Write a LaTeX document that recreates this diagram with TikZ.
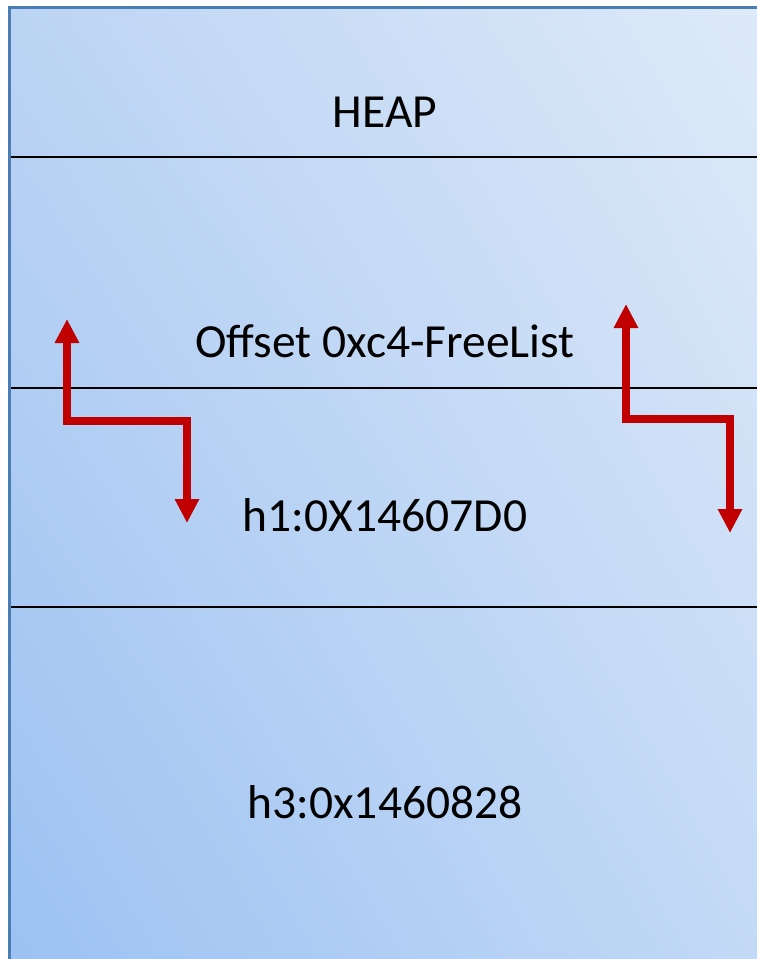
\documentclass[tikz,border=0pt]{standalone}
\usepackage{fontspec}
\setmainfont{Carlito}
\usetikzlibrary{arrows.meta,shadings}
\definecolor{tl}{HTML}{BCD4F4}
\definecolor{tr}{HTML}{E0EBF9}
\definecolor{bl}{HTML}{9BC1F2}
\definecolor{br}{HTML}{C4DAF6}
\definecolor{frame}{HTML}{4A7DB4}
\definecolor{arrowred}{HTML}{C00000}
\tikzset{
  sep/.style={black, line width=1.3pt},
  lbl/.style={font=\fontsize{47.5}{57}\selectfont, text=black, inner sep=0pt, anchor=base},
  zarrow/.style={arrowred, line width=7.5pt,
    {Triangle[width=23pt,length=24pt]}-{Triangle[width=23pt,length=24pt]}}
}
\begin{document}
\begin{tikzpicture}[x=1pt,y=-1pt]
\useasboundingbox (0,0) rectangle (757,959);
\clip (0,0) rectangle (757,959);
\fill[white] (0,0) rectangle (757,959);
\shade[upper left=tl, upper right=tr, lower left=bl, lower right=br] (9.5,7.5) rectangle (800,1000);
\draw[frame, line width=3pt] (9.5,1000) -- (9.5,7.5) -- (800,7.5);
\draw[sep] (11,157) -- (757,157);
\draw[sep] (11,388) -- (757,388);
\draw[sep] (11,607) -- (757,607);
\node[lbl] (heap) at (385,127) {HEAP};
\node[lbl] (off) at (385,357) {Offset 0xc4-FreeList};
\node[lbl] (h1) at (385,531) {h1:0X14607D0};
\node[lbl] (h3) at (385,818) {h3:0x1460828};
\coordinate (la) at (67,319);
\coordinate (lb) at (187,523);
\coordinate (ra) at (626,304);
\coordinate (rb) at (730,533);
\draw[zarrow] (la) -- (67,421) -- (187,421) -- (lb);
\draw[zarrow] (ra) -- (626,419) -- (730,419) -- (rb);
\end{tikzpicture}
\end{document}
